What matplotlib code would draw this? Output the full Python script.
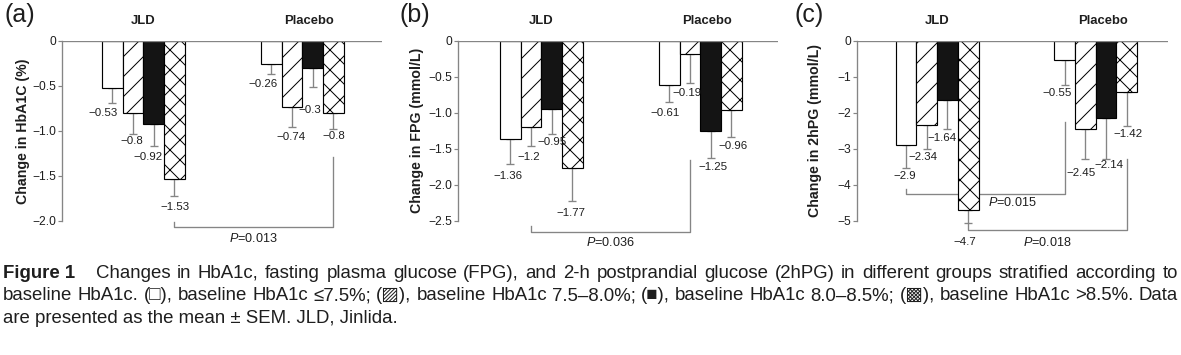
import matplotlib
matplotlib.use("Agg")
import matplotlib.pyplot as plt
from matplotlib.transforms import blended_transform_factory

# figure size in pixels
W, H, DPI = 1181, 355, 120

plt.rcParams["font.family"] = ["Liberation Sans", "DejaVu Sans"]
plt.rcParams["mathtext.fontset"] = "custom"
plt.rcParams["mathtext.it"] = "Liberation Sans:italic"
plt.rcParams["mathtext.rm"] = "Liberation Sans"
plt.rcParams["hatch.linewidth"] = 0.6

GRAY = "#858585"
INK = "#1e1e1e"

GROUPS = ["JLD", "Placebo"]
# white, hatched, black, cross-hatched = baseline HbA1c <=7.5, 7.5-8.0, 8.0-8.5, >8.5
FACES = ["white", "white", "#141414", "white"]
HATCHES = ["", "//", "", "xx"]

# (a) HbA1c (%)
HBA1C_JLD = [-0.53, -0.8, -0.92, -1.53]
HBA1C_JLD_SEM = [0.16, 0.235, 0.25, 0.19]
HBA1C_PLA = [-0.26, -0.74, -0.3, -0.8]
HBA1C_PLA_SEM = [0.11, 0.22, 0.21, 0.18]
HBA1C_TICKS = [0, -0.5, -1.0, -1.5, -2.0]
HBA1C_TICKLABELS = ["0", "−0.5", "−1.0", "−1.5", "−2.0"]

# (b) FPG (mmol/L)
FPG_JLD = [-1.36, -1.2, -0.95, -1.77]
FPG_JLD_SEM = [0.35, 0.26, 0.34, 0.45]
FPG_PLA = [-0.61, -0.19, -1.25, -0.96]
FPG_PLA_SEM = [0.24, 0.40, 0.38, 0.38]
FPG_TICKS = [0, -0.5, -1.0, -1.5, -2.0, -2.5]
FPG_TICKLABELS = ["0", "−0.5", "−1.0", "−1.5", "−2.0", "−2.5"]

# (c) 2hPG (mmol/L)
PG2H_JLD = [-2.9, -2.34, -1.64, -4.7]
PG2H_JLD_SEM = [0.64, 0.67, 0.82, 0.35]
PG2H_PLA = [-0.55, -2.45, -2.14, -1.42]
PG2H_PLA_SEM = [0.68, 0.84, 1.15, 0.96]
PG2H_TICKS = [0, -1, -2, -3, -4, -5]
PG2H_TICKLABELS = ["0", "−1", "−2", "−3", "−4", "−5"]

# p values between the groups
P_HBA1C = ["0.013"]
P_FPG = ["0.036"]
P_PG2H = ["0.015", "0.018"]

CAPTION_HEAD = "Figure 1"
CAPTION_1 = ("Changes in HbA1c, fasting plasma glucose (FPG), and 2-h postprandial "
             "glucose (2hPG) in different groups stratified according to")
CAPTION_2 = ("baseline HbA1c. (□), baseline HbA1c ≤7.5%; (▨), baseline HbA1c 7.5–8.0%; "
             "(■), baseline HbA1c 8.0–8.5%; (▩), baseline HbA1c >8.5%. Data")
CAPTION_3 = "are presented as the mean ± SEM. JLD, Jinlida."

# layout (pixels / bar units)
BAR_PX = 20.7
AX_TOP, AX_BOTTOM = 40.5, 221

panels = [
    dict(letter="(a)", letter_x=4, ylabel="Change in HbA1C (%)", ylabel_off=39,
         left=62, width=320, starts=(1.93, 9.61),
         vals=(HBA1C_JLD, HBA1C_PLA), sems=(HBA1C_JLD_SEM, HBA1C_PLA_SEM),
         ticks=HBA1C_TICKS, ticklabels=HBA1C_TICKLABELS,
         dx=([-9, -1, -6, 1], [-8, -1, -3, 0]),
         dy=([10, 7, 11, 11], [10, 10, 23, 7]),
         brackets=[((0, 3), (1, 3), -2.01, -1.29, -2.07, P_HBA1C[0], 0.5, 11)]),
    dict(letter="(b)", letter_x=399, ylabel="Change in FPG (mmol/L)", ylabel_off=41,
         left=458, width=320, starts=(2.03, 9.71),
         vals=(FPG_JLD, FPG_PLA), sems=(FPG_JLD_SEM, FPG_PLA_SEM),
         ticks=FPG_TICKS, ticklabels=FPG_TICKLABELS,
         dx=([-2, -2, 0, -2], [-4, -3, 2, 2]),
         dy=([12, 11, 8, 12], [11, 10, 9, 9]),
         brackets=[((0, 1), (1, 1), -2.57, -1.65, -2.65, P_FPG[0], 0.5, 11)]),
    dict(letter="(c)", letter_x=795, ylabel="Change in 2hPG (mmol/L)", ylabel_off=42,
         left=857, width=311, starts=(1.87, 9.53),
         vals=(PG2H_JLD, PG2H_PLA), sems=(PG2H_JLD_SEM, PG2H_PLA_SEM),
         ticks=PG2H_TICKS, ticklabels=PG2H_TICKLABELS,
         dx=([-1, -4, -5, -3], [-7, -4, 3, 1]),
         dy=([8, 8, 9, 19], [8, 14, 6, 8]),
         brackets=[((0, 0), (1, 0), -4.11, -2.27, -4.25, P_PG2H[0], 0.67, 9),
                   ((0, 3), (1, 3), -5.05, -3.29, -5.25, P_PG2H[1], 0.5, 12)]),
]

fig = plt.figure(figsize=(W / DPI, H / DPI), dpi=DPI)

for p in panels:
    ax = fig.add_axes([p["left"] / W, 1 - AX_BOTTOM / H, p["width"] / W, (AX_BOTTOM - AX_TOP) / H])
    ax.set_xlim(0, p["width"] / BAR_PX)
    ax.set_ylim(p["ticks"][-1], 0)

    centers = []
    for g in range(2):
        xs = [p["starts"][g] + i + 0.5 for i in range(4)]
        centers.append(xs)
        vals, sems = p["vals"][g], p["sems"][g]
        for i in range(4):
            ax.bar(xs[i], vals[i], width=1.0, color=FACES[i], hatch=HATCHES[i],
                   edgecolor="black", linewidth=0.7, zorder=2)
        ax.errorbar(xs, vals, yerr=[sems, [0] * 4], fmt="none", ecolor=GRAY,
                    elinewidth=0.8, capsize=2.2, capthick=0.8, zorder=1, clip_on=False)
        for i in range(4):
            ax.annotate(f"{vals[i]:g}".replace("-", "−"), (xs[i], vals[i] - sems[i]),
                        xytext=(p["dx"][g][i], -p["dy"][g][i]), textcoords="offset pixels",
                        ha="center", va="center", fontsize=6.9, color=INK,
                        annotation_clip=False)

    # group titles
    trans = blended_transform_factory(ax.transData, ax.transAxes)
    for g, name in enumerate(GROUPS):
        gx = (centers[g][1] + centers[g][2]) / 2
        ax.annotate(name, (gx, 1), xycoords=trans, xytext=(0 if g == 0 else 7, 20),
                    textcoords="offset pixels", ha="center", va="center",
                    fontsize=7.8, fontweight="bold", color=INK)

    # significance brackets
    for (ga, ia), (gb, ib), ya, yb, ybot, ptxt, frac, drop in p["brackets"]:
        xa, xb = centers[ga][ia], centers[gb][ib]
        ax.plot([xa, xa, xb, xb], [ya, ybot, ybot, yb], color=GRAY, lw=0.8,
                clip_on=False, zorder=1)
        ax.annotate(f"$P$={ptxt}", (xa + frac * (xb - xa), ybot),
                    xytext=(0, -drop), textcoords="offset pixels",
                    ha="center", va="center", fontsize=7.6, color=INK,
                    annotation_clip=False)

    ax.axhline(0, color=GRAY, lw=0.8, zorder=3)
    for s in ["top", "right", "bottom"]:
        ax.spines[s].set_visible(False)
    ax.spines["left"].set_color(GRAY)
    ax.spines["left"].set_linewidth(0.8)
    ax.set_xticks([])
    ax.set_yticks(p["ticks"])
    ax.set_yticklabels(p["ticklabels"])
    ax.tick_params(axis="y", direction="out", length=2.2, width=0.7, color=GRAY,
                   labelsize=7.2, pad=1.3, labelcolor=INK)
    ax.annotate(p["ylabel"], (0, 0.5), xycoords="axes fraction",
                xytext=(-p["ylabel_off"], 0), textcoords="offset pixels",
                rotation=90, ha="center", va="center", fontsize=8.5,
                fontweight="bold", color=INK)
    fig.text(p["letter_x"] / W, 1 - 15 / H, p["letter"], fontsize=15,
             ha="left", va="center", color=INK)

# caption, justified like the journal layout
renderer = fig.canvas.get_renderer()


def text_width(txt, size, weight="normal"):
    t = fig.text(0, 0, txt, fontsize=size, fontweight=weight)
    w = t.get_window_extent(renderer).width
    t.remove()
    return w


X0, X1 = 3, 1178
HEAD_GAP = 14
base = 10
natural = text_width(CAPTION_HEAD, base, "bold") + HEAD_GAP + text_width(CAPTION_1, base)
cap_size = base * (X1 - X0 - 25) / natural


def justified(y_px, words, lead_gap=0):
    items = []
    for txt, wt in words:
        items.append(fig.text(0, 1 - y_px / H, txt, fontsize=cap_size, fontweight=wt,
                              va="baseline", ha="left", color=INK))
    widths = [t.get_window_extent(renderer).width for t in items]
    gap = (X1 - X0 - sum(widths) - lead_gap) / (len(items) - 1)
    x = X0
    for i, t in enumerate(items):
        t.set_x(x / W)
        x += widths[i] + gap + (lead_gap if i == 0 else 0)


justified(278, [(CAPTION_HEAD, "bold")] + [(w, "normal") for w in CAPTION_1.split()],
          lead_gap=HEAD_GAP)
justified(300.5, [(w, "normal") for w in CAPTION_2.split()])
fig.text(X0 / W, 1 - 323 / H, CAPTION_3, fontsize=cap_size, va="baseline", ha="left", color=INK)

fig.savefig("out.png", dpi=DPI)
